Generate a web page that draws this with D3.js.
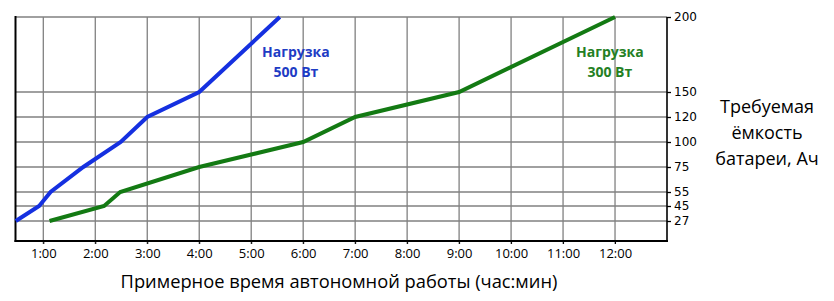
<!DOCTYPE html>
<html><head><meta charset="utf-8">
<script src="https://cdn.jsdelivr.net/npm/d3@7"></script>
<style>body{margin:0;background:#fff;} svg{display:block;}</style>
</head><body>
<svg id="chart" width="834" height="301"></svg>
<script>
// ---- data ----
const hourTicks = [1,2,3,4,5,6,7,8,9,10,11,12];
const hourLabels = ["1:00","2:00","3:00","4:00","5:00","6:00","7:00","8:00","9:00","10:00","11:00","12:00"];
const ahTicks = [27,45,55,75,100,120,150,200];
const blueHours = [0.47,0.92,1.14,1.77,2.49,3.0,4.0,5.55];
const blueAh    = [27,45,55,75,100,120,150,200];
const greenHours = [1.12,2.17,2.48,4.0,6.0,7.0,9.0,12.0];
const greenAh    = [27,45,55,75,100,120,150,200];
const seriesLabels = [["Нагрузка","500 Вт"],["Нагрузка","300 Вт"]];
const labelHours = [5.86, 11.9];
const xTitle = "Примерное время автономной работы (час:мин)";
const yTitle = ["Требуемая","ёмкость","батареи, Ач"];

// ---- layout ----
const svg = d3.select("#chart");
const L = 15.5, R = 667, T = 17, B = 241;
const H = B - T;
const x = d3.scaleLinear().domain([0.465, 13.0]).range([L, R]);
// piecewise (uneven) value axis, as in the original
const yFrac = [204,189,175,150,125,100,75,0].map(v => v / 224);
const y = d3.scaleLinear().domain(ahTicks).range(yFrac.map(f => T + f * H));

const font = "'Open Sans', sans-serif";

// grid
const grid = svg.append("g").attr("stroke", "#808080").attr("stroke-width", 1.3);
hourTicks.forEach(h => {
  grid.append("line").attr("x1", x(h)).attr("x2", x(h)).attr("y1", T).attr("y2", B + 3);
});
ahTicks.forEach(v => {
  grid.append("line").attr("x1", L).attr("x2", R).attr("y1", y(v)).attr("y2", y(v));
});

// x axis (bottom)
const xAxis = d3.axisBottom(x).tickValues(hourTicks)
  .tickFormat((d, i) => hourLabels[i]).tickSize(3).tickPadding(5);
const gx = svg.append("g").attr("transform", `translate(0,${B})`).call(xAxis);
gx.select(".domain").remove();
gx.selectAll(".tick line").attr("stroke", "#000");
gx.selectAll("text").attr("font-family", font).attr("font-size", 13).attr("fill", "#000");

// y axis (right)
const yAxis = d3.axisRight(y).tickValues(ahTicks).tickSize(4).tickPadding(3);
const gy = svg.append("g").attr("transform", `translate(${R},0)`).call(yAxis);
gy.select(".domain").remove();
gy.selectAll(".tick line").attr("stroke", "#000").attr("stroke-width", 1.3);
gy.selectAll("text").attr("font-family", "'DejaVu Sans', sans-serif").attr("font-size", 12).attr("fill", "#000");

// frame lines
svg.append("line").attr("x1", L).attr("x2", L).attr("y1", T - 1).attr("y2", B + 1).attr("stroke", "#000").attr("stroke-width", 2);
svg.append("line").attr("x1", L - 1).attr("x2", R + 1).attr("y1", B).attr("y2", B).attr("stroke", "#000").attr("stroke-width", 2);
svg.append("line").attr("x1", R).attr("x2", R).attr("y1", T).attr("y2", B + 1).attr("stroke", "#000").attr("stroke-width", 1.6);

// series
const line = d3.line().x(d => x(d[0])).y(d => y(d[1]));
const series = [
  { h: blueHours, a: blueAh, color: "#1530e0", text: "#1e3cc4" },
  { h: greenHours, a: greenAh, color: "#137a13", text: "#247f24" }
];
series.forEach((s, i) => {
  svg.append("path").datum(s.h.map((h, j) => [h, s.a[j]]))
    .attr("d", line).attr("fill", "none").attr("stroke", s.color)
    .attr("stroke-width", 4).attr("stroke-linejoin", "miter");
  const t = svg.append("text").attr("text-anchor", "middle")
    .attr("font-family", font).attr("font-weight", "bold").attr("font-size", 14)
    .attr("fill", s.text);
  t.append("tspan").attr("x", x(labelHours[i])).attr("y", 57).text(seriesLabels[i][0]);
  t.append("tspan").attr("x", x(labelHours[i])).attr("y", 77).text(seriesLabels[i][1]);
});

// titles
svg.append("text").attr("x", 339).attr("y", 288).attr("text-anchor", "middle")
  .attr("font-family", font).attr("font-size", 18.3).attr("fill", "#000").text(xTitle);
const yt = svg.append("text").attr("text-anchor", "middle")
  .attr("font-family", font).attr("font-size", 18).attr("fill", "#000");
yTitle.forEach((s, i) => {
  yt.append("tspan").attr("x", 767).attr("y", 113 + i * 26).text(s);
});
</script>
</body></html>
